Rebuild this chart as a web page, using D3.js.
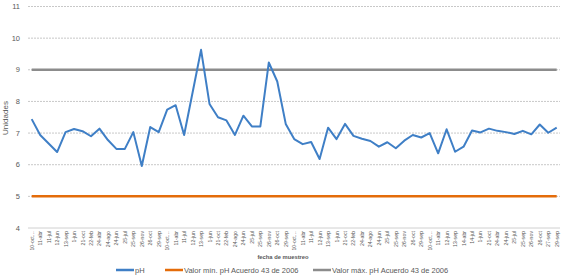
<!DOCTYPE html>
<html lang="es">
<head>
<meta charset="UTF-8">
<title>pH</title>
<script src="https://d3js.org/d3.v7.min.js"></script>
<style>
  body { margin: 0; background: #fff; font-family: "Liberation Sans", Arial, sans-serif; }
  text { fill: #595959; }
</style>
</head>
<body>
<svg id="chart" width="561" height="275"></svg>
<script>
// fechas de muestreo (etiquetas del eje x)
const fechas = [
  "10-oct…","11-abr","11-jul","12-jun","13-sep","1-jun","21-oct","22-feb","24-abr","24-ago","24-jun","25-jul","25-sep","26-nov","26-oct","29-sep",
  "10-oct…","11-abr","11-jul","12-jun","13-sep","1-jun","21-oct","22-feb","24-ago","24-jun","25-jul","25-sep","26-nov","26-oct","29-sep",
  "10-oct…","11-abr","11-jul","12-jun","13-sep","1-jun","21-oct","22-feb","24-abr","24-ago","24-jun","25-jul","25-sep","26-nov","26-oct","29-sep",
  "10-oct…","11-abr","12-jun","13-sep","14-abr","14-jul","1-jun","21-oct","24-abr","24-jun","25-jul","25-sep","26-nov","26-oct","27-sep","29-sep"
];

// valores de pH
const ph = [
  7.44, 6.94, 6.67, 6.40, 7.03, 7.13, 7.06, 6.90, 7.14, 6.78, 6.50, 6.50, 7.03, 5.96, 7.19, 7.03,
  7.74, 7.88, 6.94, 8.28, 9.63, 7.92, 7.50, 7.40, 6.94, 7.55, 7.21, 7.21, 9.23, 8.63, 7.29,
  6.81, 6.65, 6.72, 6.18, 7.17, 6.81, 7.29, 6.91, 6.82, 6.75, 6.57, 6.71, 6.52, 6.76, 6.94, 6.86,
  7.00, 6.36, 7.12, 6.41, 6.57, 7.08, 7.02, 7.14, 7.07, 7.03, 6.97, 7.07, 6.96, 7.27, 7.01, 7.17
];

// límites del Acuerdo 43 de 2006
const phMin = 5;
const phMax = 9;

const yTicks = [4, 5, 6, 7, 8, 9, 10, 11];

const serieNombres = ["pH", "Valor mín. pH Acuerdo 43 de 2006", "Valor máx. pH Acuerdo 43 de 2006"];
const serieColores = ["#3f7fc6", "#e46c0a", "#8c8c8c"];

const svg = d3.select("#chart");

const x = d3.scalePoint().domain(d3.range(fechas.length)).range([31.7, 556.7]);
const y = d3.scaleLinear().domain([4, 11]).range([228, 6.5]);

// líneas de cuadrícula
svg.append("g")
  .selectAll("line")
  .data(yTicks.filter(d => d > 4))
  .join("line")
  .attr("x1", 28).attr("x2", 560)
  .attr("y1", d => y(d)).attr("y2", d => y(d))
  .attr("stroke", "#c8c8c8")
  .attr("stroke-width", 1)
  .attr("stroke-dasharray", "2,1");

// eje x (línea base)
svg.append("line")
  .attr("x1", 28).attr("x2", 560)
  .attr("y1", y(4)).attr("y2", y(4))
  .attr("stroke", "#d0d0d0");

// etiquetas eje y
svg.append("g")
  .selectAll("text")
  .data(yTicks)
  .join("text")
  .attr("x", 20)
  .attr("y", d => y(d))
  .attr("dy", "0.35em")
  .attr("text-anchor", "end")
  .style("font-size", "7.5px")
  .text(d => d);

// etiquetas eje x
svg.append("g")
  .selectAll("text")
  .data(fechas)
  .join("text")
  .attr("transform", (d, i) => `translate(${x(i) + 2},231) rotate(-90)`)
  .attr("text-anchor", "end")
  .style("font-size", "5.2px")
  .text(d => d);

// títulos
svg.append("text")
  .attr("x", 283).attr("y", 259)
  .attr("text-anchor", "middle")
  .style("font-size", "5.8px")
  .style("font-weight", "bold")
  .text("fecha de muestreo");

svg.append("text")
  .attr("transform", "translate(8,118) rotate(-90)")
  .attr("text-anchor", "middle")
  .style("font-size", "8px")
  .text("Unidades");

const linea = d3.line().x((d, i) => x(i)).y(d => y(d));

// límites
svg.append("path")
  .datum(fechas.map(() => phMin))
  .attr("d", linea)
  .attr("fill", "none")
  .attr("stroke", serieColores[1])
  .attr("stroke-width", 2.5);

svg.append("path")
  .datum(fechas.map(() => phMax))
  .attr("d", linea)
  .attr("fill", "none")
  .attr("stroke", serieColores[2])
  .attr("stroke-width", 2.5);

// serie pH
svg.append("path")
  .datum(ph)
  .attr("d", linea)
  .attr("fill", "none")
  .attr("stroke", serieColores[0])
  .attr("stroke-width", 2)
  .attr("stroke-linejoin", "round");

// leyenda
const legendX = [116, 165, 313];
const leyenda = svg.append("g")
  .selectAll("g")
  .data(serieNombres)
  .join("g")
  .attr("transform", (d, i) => `translate(${legendX[i]},270)`);

leyenda.append("line")
  .attr("x1", 0).attr("x2", 18)
  .attr("stroke", (d, i) => serieColores[i])
  .attr("stroke-width", 2.5);

leyenda.append("text")
  .attr("x", 19)
  .attr("dy", "0.35em")
  .style("font-size", "7.5px")
  .text(d => d);
</script>
</body>
</html>
